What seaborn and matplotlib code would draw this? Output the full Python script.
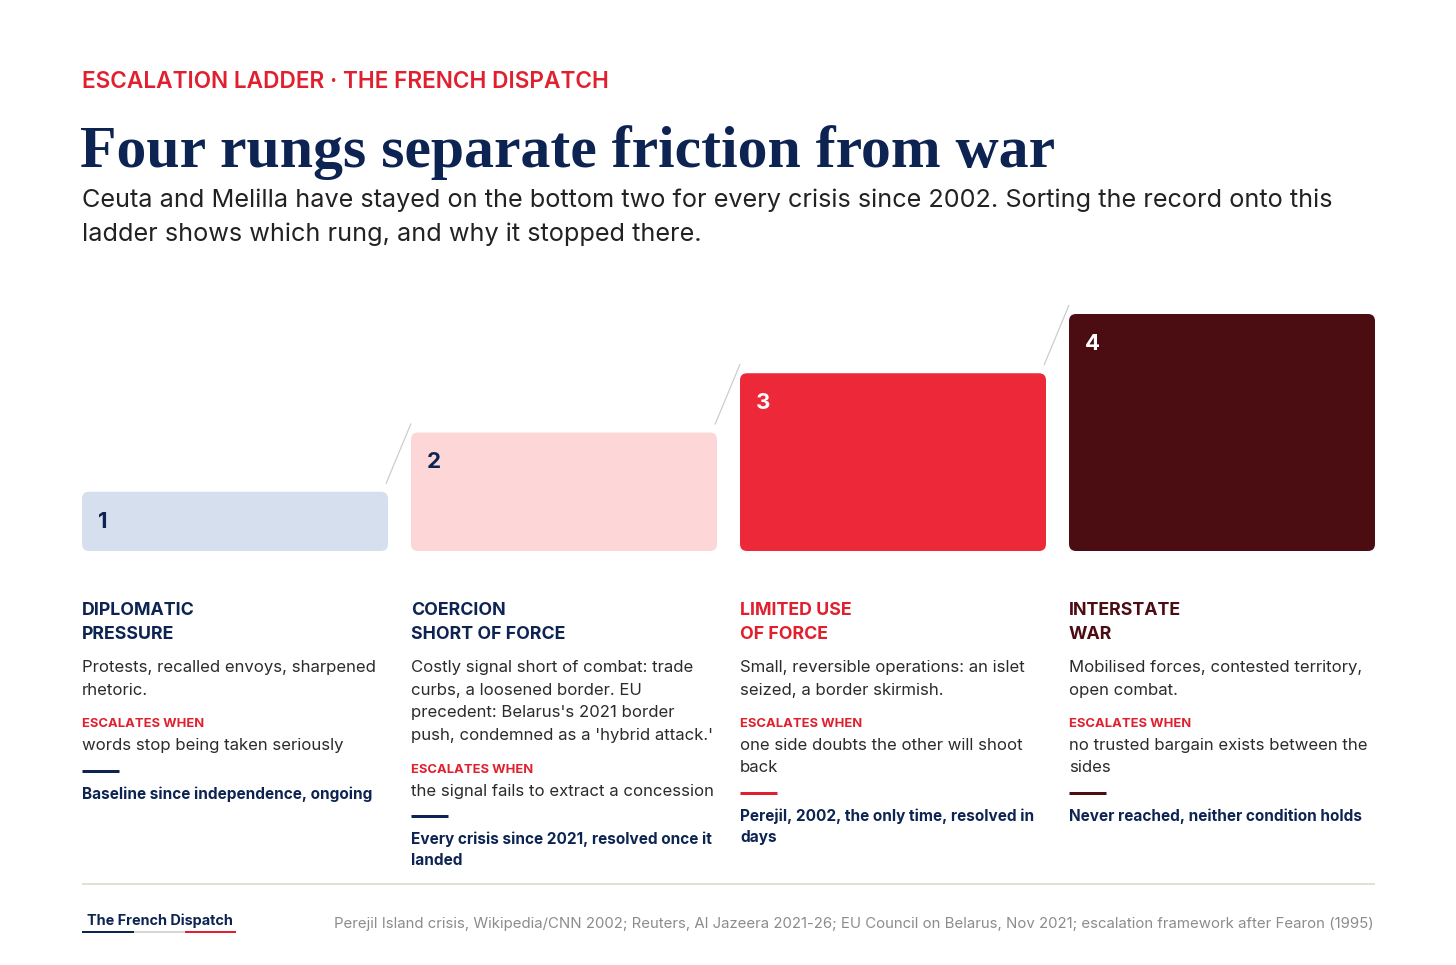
import matplotlib
matplotlib.use("Agg")
import matplotlib.pyplot as plt
import seaborn as sns
from matplotlib.patches import FancyBboxPatch
from matplotlib.lines import Line2D

# ---------------- data ----------------
rungs = ["1", "2", "3", "4"]
levels = [1, 2, 3, 4]
bar_colors = ["#d5dfee", "#fdd6d7", "#ec2839", "#4b0c12"]
number_colors = ["#0d2452", "#0d2452", "#ffffff", "#ffffff"]
heading_colors = ["#0d2452", "#0d2452", "#e0202f", "#4b0c12"]
rule_colors = ["#0d2452", "#0d2452", "#e0202f", "#4b0c12"]

headings = [
    ["DIPLOMATIC", "PRESSURE"],
    ["COERCION", "SHORT OF FORCE"],
    ["LIMITED USE", "OF FORCE"],
    ["INTERSTATE", "WAR"],
]
descriptions = [
    ["Protests, recalled envoys, sharpened", "rhetoric."],
    ["Costly signal short of combat: trade", "curbs, a loosened border. EU",
     "precedent: Belarus's 2021 border", "push, condemned as a 'hybrid attack.'"],
    ["Small, reversible operations: an islet", "seized, a border skirmish."],
    ["Mobilised forces, contested territory,", "open combat."],
]
escalates_label = "ESCALATES WHEN"
conditions = [
    ["words stop being taken seriously"],
    ["the signal fails to extract a concession"],
    ["one side doubts the other will shoot", "back"],
    ["no trusted bargain exists between the", "sides"],
]
outcomes = [
    ["Baseline since independence, ongoing"],
    ["Every crisis since 2021, resolved once it", "landed"],
    ["Perejil, 2002, the only time, resolved in", "days"],
    ["Never reached, neither condition holds"],
]

kicker = "ESCALATION LADDER · THE FRENCH DISPATCH"
title = "Four rungs separate friction from war"
subtitle = ["Ceuta and Melilla have stayed on the bottom two for every crisis since 2002. Sorting the record onto this",
            "ladder shows which rung, and why it stopped there."]
source = ("Perejil Island crisis, Wikipedia/CNN 2002; Reuters, Al Jazeera 2021-26; "
          "EU Council on Belarus, Nov 2021; escalation framework after Fearon (1995)")
logo = "The French Dispatch"

NAVY = "#0d2452"
RED = "#e0202f"
BODY = "#2b2b2b"

# ---------------- figure ----------------
sns.set_theme(style="white")
plt.rcParams["font.family"] = ["Inter", "DejaVu Sans"]

W, H = 1456, 965
fig = plt.figure(figsize=(W / 100, H / 100), dpi=100, facecolor="white")
renderer = fig.canvas.get_renderer()


def T(x, y, s, **kw):
    """Text at pixel position x, y (y measured from top)."""
    return fig.text(x / W, 1 - y / H, s, **kw)


def fit(t, target):
    for _ in range(3):
        w = t.get_window_extent(renderer=renderer).width
        t.set_fontsize(t.get_fontsize() * target / w)
    return t.get_fontsize()


def hline(x0, x1, y, color, lw_px):
    fig.add_artist(Line2D([x0 / W, x1 / W], [1 - y / H, 1 - y / H],
                          color=color, lw=lw_px * 72 / 100,
                          solid_capstyle="butt", transform=fig.transFigure))


# ---------------- header ----------------
t = T(82, 88, kicker, color=RED, fontsize=16, fontweight="semibold", va="baseline")
fit(t, 527)
t = T(80, 167, title, color=NAVY, fontsize=40, fontweight="bold",
      family=["Liberation Serif", "DejaVu Serif"], va="baseline")
fit(t, 975)
t = T(82, 207, subtitle[0], color="#222222", fontsize=17, va="baseline")
fit(t, 1248)
T(82, 241, subtitle[1], color="#222222", fontsize=t.get_fontsize(), va="baseline")

# ---------------- bars ----------------
ax_left, ax_right, ax_bottom, ax_top = 82, 1375, 551, 295
bar_w = 0.93
ytop = 4 * (ax_bottom - ax_top) / 237
ax = fig.add_axes([ax_left / W, 1 - ax_bottom / H,
                   (ax_right - ax_left) / W, (ax_bottom - ax_top) / H])
sns.barplot(x=rungs, y=levels, hue=rungs, palette=bar_colors, legend=False,
            width=bar_w, saturation=1, ax=ax)
ax.set_xlim(-bar_w / 2, len(rungs) - 1 + bar_w / 2)
ax.set_ylim(0, ytop)
ax.set_axis_off()

px_x = (ax_right - ax_left) / (len(rungs) - 1 + bar_w)
px_y = (ax_bottom - ax_top) / ytop

for p in list(ax.patches):
    x0, y0, w, h = p.get_x(), p.get_y(), p.get_width(), p.get_height()
    fc = p.get_facecolor()
    p.remove()
    ax.add_patch(FancyBboxPatch((x0, y0), w, h,
                                boxstyle=f"round,pad=0,rounding_size={7 / px_x}",
                                mutation_aspect=px_x / px_y,
                                fc=fc, ec="none"))

for i, (r, lv) in enumerate(zip(rungs, levels)):
    ax.annotate(r, xy=(i - bar_w / 2, lv), xytext=(16, -30),
                textcoords="offset pixels", ha="left", va="center",
                fontsize=16, fontweight="bold", color=number_colors[i])

for i in range(len(levels) - 1):
    ax.plot([i + bar_w / 2 - 2 / px_x, i + 1 - bar_w / 2],
            [levels[i] + 8 / px_y, levels[i + 1] + 9 / px_y],
            color="#cdcdcd", lw=0.9, solid_capstyle="butt")

# ---------------- font sizes calibrated on widths in the reference ----------------
probe = T(0, -100, headings[0][0], fontsize=12, fontweight="bold")
FS_HEAD = fit(probe, 113); probe.remove()
probe = T(0, -100, descriptions[0][0], fontsize=12)
FS_BODY = fit(probe, 294); probe.remove()
probe = T(0, -100, escalates_label, fontsize=9, fontweight="bold")
FS_EW = fit(probe, 122); probe.remove()
probe = T(0, -100, outcomes[0][0], fontsize=11, fontweight="bold")
FS_OUT = fit(probe, 291); probe.remove()

# ---------------- column texts ----------------
for i in range(len(rungs)):
    x = ax_left + i * px_x
    y = 615
    for line in headings[i]:
        T(x, y, line, color=heading_colors[i], fontsize=FS_HEAD, fontweight="bold", va="baseline")
        y += 24
    y = 672
    for line in descriptions[i]:
        T(x, y, line, color=BODY, fontsize=FS_BODY, va="baseline")
        y += 22.7
    y = y - 22.7 + 32.5
    T(x, y, escalates_label, color=RED, fontsize=FS_EW, fontweight="bold", va="baseline")
    y += 23
    for line in conditions[i]:
        T(x, y, line, color=BODY, fontsize=FS_BODY, va="baseline")
        y += 22
    y = y - 22 + 20.3
    hline(x, x + 37, y, rule_colors[i], 3)
    y += 28.5
    for line in outcomes[i]:
        T(x, y, line, color=NAVY, fontsize=FS_OUT, fontweight="bold", va="baseline")
        y += 21

# ---------------- footer ----------------
hline(82, 1375, 884, "#d9d5c6", 1.5)
t = T(87, 925, logo, color=NAVY, fontsize=10.5, fontweight="bold", va="baseline")
fit(t, 146)
hline(82, 134, 932, NAVY, 2)
hline(134, 185, 932, "#d6d6d6", 2)
hline(185, 236, 932, RED, 2)
t = T(1374, 928, source, color="#8c8c8c", fontsize=11, ha="right", va="baseline")
fit(t, 1041)

fig.savefig("out.png", dpi=100, facecolor="white")
